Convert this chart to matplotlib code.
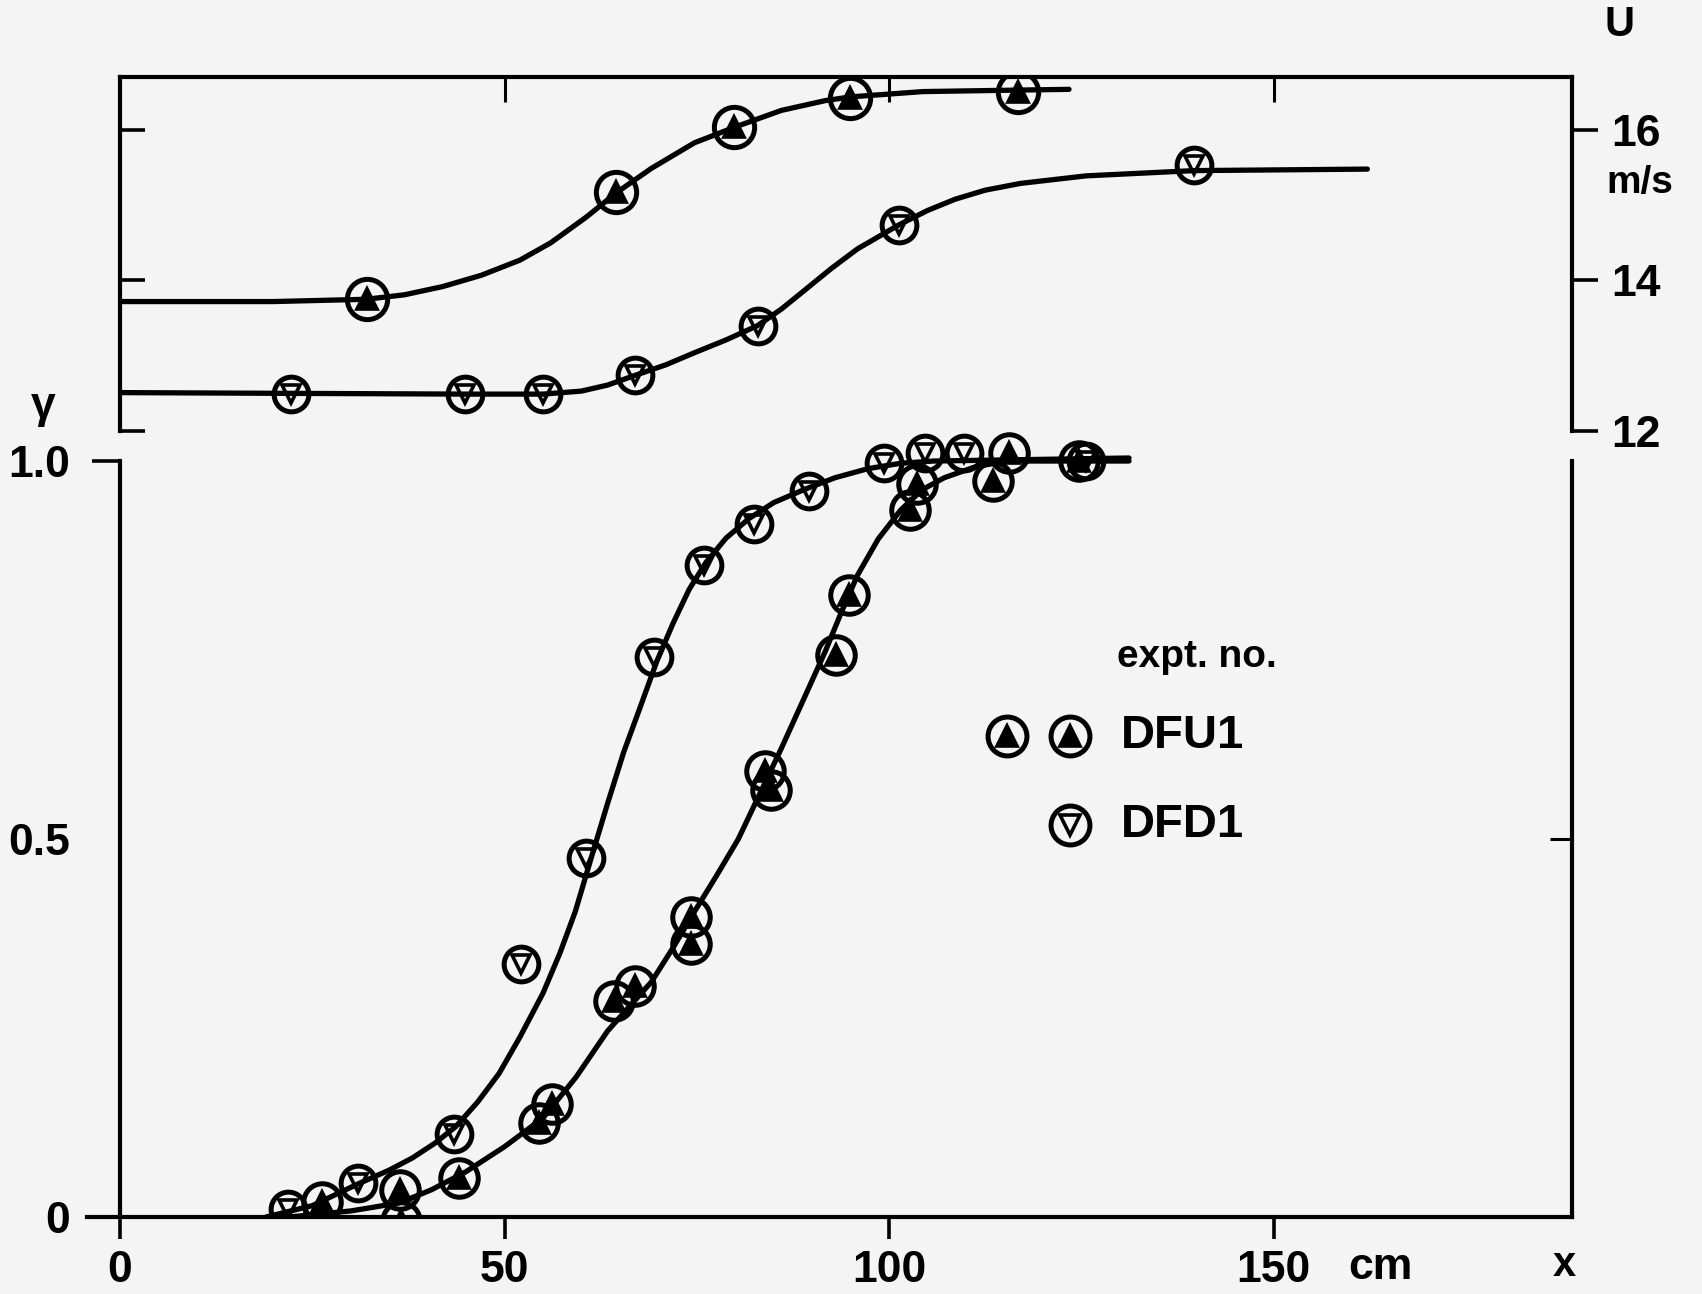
import matplotlib.pyplot as plt

plt.rcParams['font.family'] = ['Liberation Sans', 'DejaVu Sans']
plt.rcParams['font.weight'] = 'bold'

# --- upper panel: free-stream velocity U (m/s) vs x (cm) ---
u_dfu_x = [32.1, 64.5, 79.9, 94.9, 116.8]
u_dfu = [13.76, 15.18, 16.04, 16.43, 16.50]
u_dfd_x = [22.2, 44.8, 55.0, 67.0, 82.9, 101.3, 139.7]
u_dfd = [12.49, 12.49, 12.49, 12.74, 13.40, 14.74, 15.53]

cu_dfu_x = [0, 20, 32, 37, 42, 47, 52, 56, 60.6, 64.6, 69.1, 74.7, 80, 86, 91.7, 95,
            104.4, 116.8, 123.4]
cu_dfu = [13.72, 13.72, 13.75, 13.81, 13.92, 14.07, 14.27, 14.50, 14.84, 15.17, 15.49,
          15.83, 16.04, 16.26, 16.39, 16.44, 16.51, 16.53, 16.54]
cu_dfd_x = [0, 22, 45, 55, 60, 63.4, 67, 71, 74.7, 78.8, 82.9, 86, 88.9, 92.5, 95.9, 101.3,
            105, 108.6, 112.5, 117.1, 125.6, 139.7, 162.2]
cu_dfd = [12.51, 12.50, 12.49, 12.49, 12.53, 12.61, 12.74, 12.88, 13.04, 13.21, 13.40,
          13.62, 13.86, 14.16, 14.42, 14.74, 14.93, 15.08, 15.20, 15.29, 15.39, 15.46, 15.48]

# --- lower panel: intermittency gamma vs x (cm) ---
g_dfd_x = [21.8, 30.9, 43.4, 52.2, 60.6, 69.4, 75.9, 82.5, 89.6, 99.4, 104.7, 109.7, 125.6]
g_dfd = [0.01, 0.045, 0.11, 0.335, 0.475, 0.741, 0.862, 0.917, 0.961, 0.997, 1.01, 1.01, 1.0]
g_dfu_x = [26.3, 36.4, 36.6, 44.1, 54.5, 56.2, 64.3, 67.0, 74.2, 74.2, 84.6, 83.9, 93.1,
           94.8, 102.7, 103.6, 113.5, 115.6, 124.7]
g_dfu = [0.02, 0.036, -0.005, 0.052, 0.125, 0.15, 0.286, 0.306, 0.361, 0.397, 0.565, 0.59,
         0.744, 0.823, 0.935, 0.97, 0.974, 1.01, 1.0]

cg_dfd_x = [19, 25, 31, 35, 38, 41, 43.7, 46.5, 49.3, 52, 55, 57.2, 59.2, 61.3, 63.4, 65.5,
            67.7, 69.8, 71.9, 74, 76.2, 78.8, 81.8, 85, 88.9, 93, 97.3, 101.5, 105.8, 131.2]
cg_dfd = [0, 0.015, 0.044, 0.062, 0.078, 0.098, 0.12, 0.152, 0.19, 0.238, 0.296, 0.349,
          0.404, 0.476, 0.547, 0.615, 0.676, 0.735, 0.785, 0.83, 0.866, 0.898, 0.924, 0.945,
          0.962, 0.978, 0.99, 0.997, 1.0, 1.004]
cg_dfu_x = [22, 26, 30, 33, 36.4, 40.5, 45, 50, 55, 59.3, 63.4, 66.2, 69.1, 71.9, 74.7, 77.6,
            80.4, 83.2, 86, 88.9, 91.7, 93.8, 95.9, 98.6, 101.5, 104.3, 107.2, 111.4, 115.6, 131.2]
cg_dfu = [0, 0.004, 0.008, 0.013, 0.019, 0.036, 0.06, 0.093, 0.131, 0.185, 0.246, 0.278,
          0.311, 0.356, 0.404, 0.452, 0.5, 0.56, 0.62, 0.685, 0.748, 0.8, 0.849, 0.897, 0.935,
          0.962, 0.978, 0.993, 1.0, 1.0]

x_ticks = [0, 50, 100, 150]
x_labels = ['0', '50', '100', '150']
g_ticks = [0, 0.5, 1.0]
g_labels = ['0', '0.5', '1.0']
u_ticks = [12, 14, 16]
u_labels = ['12', '14', '16']

INK = 'black'
PAPER = '#f4f4f4'
LW = 3.8

fig = plt.figure(figsize=(17.02, 12.94), dpi=100, facecolor=PAPER)
ax = fig.add_axes([0.0705, 0.0595, 0.8531, 0.881])
ax.set_facecolor('none')
ax.set_xlim(0, 188.8)
ax.set_ylim(0, 1.508)

ax_u = ax.twinx()
ax_u.set_ylim(1.555, 16.704)
ax_ul = ax.twinx()
ax_ul.set_ylim(1.555, 16.704)
ax_gr = ax.twinx()
ax_gr.set_ylim(0, 1.508)

for a in (ax, ax_u, ax_ul, ax_gr):
    for s in a.spines.values():
        s.set_visible(False)
        s.set_linewidth(3.0)
        s.set_color(INK)

# lower frame
ax.spines['left'].set_visible(True)
ax.spines['left'].set_bounds(0, 1.0)
ax.spines['bottom'].set_visible(True)
ax.spines['bottom'].set_bounds(-4.3, 188.8)
ax.set_xticks(x_ticks, x_labels)
ax.set_yticks(g_ticks, g_labels)
ax.tick_params(axis='x', direction='out', length=16, width=2.6, pad=8, labelsize=32)
ax.tick_params(axis='y', direction='out', length=20, width=2.6, pad=16, labelsize=32)
for t in ax.yaxis.get_major_ticks()[:2]:
    t.tick1line.set_visible(False)

top = ax.secondary_xaxis('top')
top.set_xticks([50, 100, 150])
top.tick_params(direction='in', length=18, width=2.2, labeltop=False)
top.spines['top'].set_linewidth(3.0)

ax_gr.spines['right'].set_visible(True)
ax_gr.spines['right'].set_bounds(0, 1.0)
ax_gr.set_yticks([0.5])
ax_gr.tick_params(axis='y', direction='in', length=16, width=2.2, labelright=False)

# upper frame, U axis
ax_u.spines['right'].set_visible(True)
ax_u.spines['right'].set_bounds(12, 16.704)
ax_u.set_yticks(u_ticks, u_labels)
ax_u.tick_params(axis='y', direction='out', length=19, width=2.6, pad=9, labelsize=32)

ax_ul.yaxis.tick_left()
ax_ul.spines['left'].set_visible(True)
ax_ul.spines['left'].set_bounds(12, 16.704)
ax_ul.set_yticks(u_ticks)
ax_ul.tick_params(axis='y', direction='in', length=18, width=2.6, labelleft=False)


def ringed(a, x, y, tri, filled, ms=26, zo=4, **kw):
    a.plot(x, y, ls='none', marker='o', ms=ms, mfc='none', mec=INK, mew=3.6, zorder=zo, **kw)
    a.plot(x, y, ls='none', marker=tri, ms=ms * 0.52,
           mfc=INK if filled else 'none', mec=INK, mew=2.6, zorder=zo + 1, **kw)


line_kw = dict(color=INK, lw=LW, solid_capstyle='round', solid_joinstyle='round')

# curves and measured points
ax_u.plot(cu_dfu_x, cu_dfu, **line_kw)
ax_u.plot(cu_dfd_x, cu_dfd, **line_kw)
ringed(ax_u, u_dfu_x, u_dfu, '^', True, ms=29)
ringed(ax_u, u_dfd_x, u_dfd, 'v', False, ms=25)

ax_u.plot(cg_dfd_x, cg_dfd, transform=ax.transData, **line_kw)
ax_u.plot(cg_dfu_x, cg_dfu, transform=ax.transData, **line_kw)
ringed(ax_u, g_dfd_x, g_dfd, 'v', False, ms=25, transform=ax.transData)
ringed(ax_u, g_dfu_x, g_dfu, '^', True, ms=27, transform=ax.transData)

# axis annotations
txt = dict(color=INK, transform=ax.transAxes)
ax.text(-0.053, 0.711, 'γ', fontsize=32, ha='center', va='center', **txt)
ax.text(1.033, 1.046, 'U', fontsize=30, ha='center', va='center', **txt)
ax.text(1.024, 0.907, 'm/s', fontsize=28, ha='left', va='center', **txt)
ax.text(0.846, -0.044, 'cm', fontsize=32, ha='left', va='center', **txt)
ax.text(0.995, -0.042, 'x', fontsize=30, ha='center', va='center', **txt)

# key
ax.text(0.742, 0.491, 'expt. no.', fontsize=28, ha='center', va='center', **txt)
ringed(ax, [0.611, 0.654], [0.422, 0.422], '^', True, ms=28, transform=ax.transAxes)
ringed(ax, [0.654], [0.344], 'v', False, ms=28, transform=ax.transAxes)
ax.text(0.689, 0.422, 'DFU1', fontsize=34, ha='left', va='center', **txt)
ax.text(0.689, 0.344, 'DFD1', fontsize=34, ha='left', va='center', **txt)

fig.savefig('out.png', dpi=100, facecolor=PAPER)
